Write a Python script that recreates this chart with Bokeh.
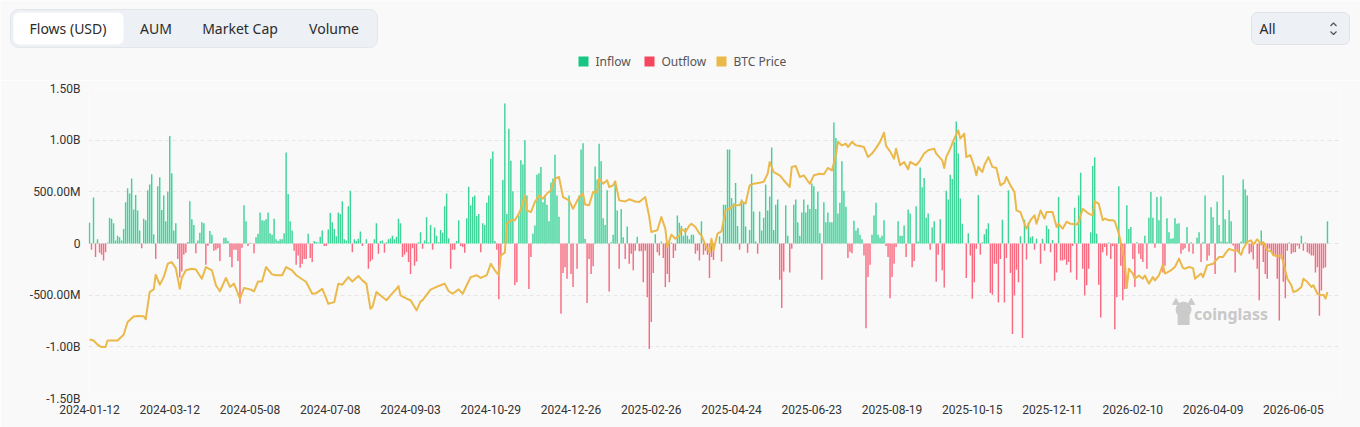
import numpy as np
from bokeh.plotting import figure
from bokeh.models import Range1d, FixedTicker, ColumnDataSource
from bokeh.layouts import column
from bokeh.core.properties import value
from bokeh.embed import file_html
from bokeh.resources import INLINE

BG = "#f9f9f9"
INFLOW_COLOR = "#3fd39a"
OUTFLOW_COLOR = "#f86b80"
PRICE_COLOR = "#ebb84a"

# ---- header texts -------------------------------------------------------
tab_names = ["Flows (USD)", "AUM", "Market Cap", "Volume"]
range_choice = "All"
legend_names = ["Inflow", "Outflow", "BTC Price"]

# ---- axis labels --------------------------------------------------------
# one date label every 40 trading days
date_labels = ["2024-01-12", "2024-03-12", "2024-05-08", "2024-07-08",
               "2024-09-03", "2024-10-29", "2024-12-26", "2025-02-26",
               "2025-04-24", "2025-06-23", "2025-08-19", "2025-10-15",
               "2025-12-11", "2026-02-10", "2026-04-09", "2026-06-05"]
label_step = 40
y_ticks = [-1.5e9, -1.0e9, -5e8, 0.0, 5e8, 1.0e9, 1.5e9]
y_tick_labels = ["-1.50B", "-1.00B", "-500.00M", "0", "500.00M", "1.00B", "1.50B"]

# ---- daily net flow, million USD (one value per trading day) -----------
net_flow_m = [
    200, -60, 445, -130, 40, -90, -110, -165, -85, 10,
    250, 240, 195, 30, 75, 60, 30, 140, 400, 535,
    485, 630, 330, 470, 320, 125, -45, 240, 225, 515,
    570, 670, 90, -150, 555, 640, 325, 465, 215, 500,
    1040, 680, 125, 195, -150, -330, -270, -110, -90, 15,
    410, 235, 180, -95, 30, 105, 205, 195, -205, -25,
    120, 85, -70, -60, -45, -170, 0, 55, 55, 25,
    -130, -230, -60, -60, -170, -580, -40, 370, 215, -25,
    8, 0, -95, 60, 95, 300, 225, 220, 235, 300,
    100, 85, 240, 40, 25, 40, 40, 100, 880, 480,
    215, 125, -70, -205, -115, -235, -195, -150, -150, 95,
    -140, -180, 25, 15, 10, 65, 125, -25, -25, 135,
    295, 205, 140,
    70, 300, 285, 410, 40, 30, 360, 510, -85, 40,
    25, 45, 115, -25, 0, 40, -245, -175, -155, 40,
    195, -100, 25, 30, -90, 12, 40, 50, 75, 40,
    65, 240, 195, -130, -110, -85, -180, -295, -45, -215,
    -175, 12, 110, -50, 30, 255, 12, 180, -60, 155,
    75, 12, 130, 105, 360, 485, 50, -245, -60, -60,
    25, 225, -25, -35, -90, 245, 550, 370, 450, 465,
    265, 285, -85, 195, 180, 395, 465, 820, 890, 25,
    -60, -540, -115, 615, 1355, 285, 1110, 800, 505, -405,
    -375, 270, 805, 765, 1000, 465, -440, -130, 95, 175,
    665, 680, 740, 400, 470, 375, 215, 590, 630, 860,
    465, 260, -680, -285, -230, -340, 465, -295, -420, 0,
    -245, 465, 910, 970,
    45, -575, -150, -295, -220, 745, 620, 965, 795, 245,
    180, 515, -465, 12, 85, 580, 320, -245, 335, 60,
    -150, 165, -195, -100, -260, -70, 65, -75, -75, -375,
    -70, -520, -1020, -760, -285, 90, -85, -115, 20, -140,
    -420, -295, -375, 10, -140, -70, 270, 200, 170, 75,
    150, 75, 40, 85, 85, -100, -70, -165, 215, -110,
    -70, -110, -335, -130, -160, 0, 0, 70, -175, 375,
    375, 910, 910, 440, 390, 585, 170, -60, 425, 400,
    165, -90, 130, 670, 310, 20, -100, 310, 125, 250,
    570, 320, 455, 930, 130, 375, 425, -350, -625, -270,
    370, 75, -280, -50, 375, 425, 205, 75, 300, 425,
    300, 375, 335, 580, 555, 335, 500, 100, -350, 400,
    205, 300, 205, 205,
    1170, 1020, 290, 395, 795, 510, 355, -140, -80, -95,
    220, 125, 150, 85, 40, -115, -820, -325, -205, 85,
    270, 395, 85, 55, 75, 225, -25, -130, -530, -325,
    -195, -35, 215, 75, 75, 175, -130, 330, 290, -230,
    -170, 360, 20, 735, 545, 635, 250, 290, -60, 155,
    215, -370, -110, 235, -260, -425, 510, 425, 665, 625,
    980, 1180, 870, 435, 190, 0, -335, 100, -115, -535,
    -375, -50, 470, -110, 12, 90, 140, 195, -480, -495,
    -195, -195, -570, -150, 230, -570, -140, 515, -285, -875,
    -500, -255, -375, 70, -915, 230, -155, 205, 60, 70,
    -60, 45, 0, -195, 45, -70, 175, 140, -85, 35,
    -360, -280, 450, -165, -165, -155, -205, -180, -280, -25,
    345, -350, 465, 685, -245,
    -500, -405, -245, 110, 750, 835, 95, -400, -715, -85,
    -35, -115, 10, -150, -25, -830, -520, 555, -215, -550,
    -440, 370, 140, 160, -150, -420, 12, -100, -150, -180,
    75, -245, 250, 500, 250, -40, 450, 225, 455, -280,
    -215, 245, 110, 45, 50, 245, 190, 195, -100, -60,
    -45, 160, -80, 12, -100, 0, 55, 110, -180, 12,
    465, -165, -115, 350, 255, -295, 405, 180, 20, 660,
    235, 15, 325, 215, -20, -280, -60, -85, 20, 620,
    525, 465, -100, -85, -155, 10, -245, -550, 125, -180,
    -295, -340, -50, -85, -110, -110, -340, -745, -150, -370,
    -530, -70, 10, -100, -85, -85, -20, -50, 75, -70,
    10, -85, -100, -115, -115, -280, -230, -700, -455, -240,
    -230, 215,
]

# ---- BTC close (thousand USD), sampled on trading-day index -----------
btc_day = [
    0, 2, 4, 6, 8, 9, 12, 14, 17, 19, 22, 24, 27, 28, 30, 32, 33, 35, 37, 39,
    41, 43, 45, 46, 48, 51, 53, 56, 58, 61, 63, 65, 68, 70, 72, 75, 77, 80, 82, 84,
    86, 88, 91, 93, 96, 98, 101, 103, 106, 108, 111, 113, 116, 118, 119, 122,
    124, 126, 129, 131, 134, 136, 138, 140, 141, 143, 146, 148, 150, 153, 154, 155,
    158, 160, 163, 165, 166, 168, 170, 173, 175, 177, 179, 181, 184, 186, 188, 190,
    193, 195, 198, 200, 202, 204, 205, 207, 208, 210, 212, 214, 215, 217, 218, 220,
    222, 224, 226, 228, 230, 232, 234, 236, 239, 241, 244, 246,
    247, 249, 251, 253, 254, 256, 258, 259, 261, 262, 264, 267, 269, 272, 274, 277,
    279, 280, 283, 285, 287, 288, 290, 292, 294, 295, 297, 299, 300, 302, 304, 305,
    307, 309, 310, 311, 313, 315, 317, 319, 321, 324, 325, 327, 329, 331, 334, 336,
    338, 339, 341, 344, 346, 349, 350, 352, 354, 356, 358, 359, 361, 364, 366, 368, 370,
    372, 373, 375, 377, 378, 380, 382, 384, 386, 388, 390, 392, 394, 396, 397, 399,
    401, 402, 404, 406, 408, 409, 412, 414, 416, 418, 421, 422, 425, 426, 427, 429,
    431, 433, 434, 436, 437, 439, 441, 442, 443, 445, 446, 448, 450, 452, 454, 456,
    457, 459, 461, 462, 464, 466, 467, 469, 471, 472, 474, 476, 477, 480, 482, 483,
    485, 487, 489, 492, 493, 495,
    498, 500, 501, 503, 505, 506, 508, 510, 511, 513, 515, 516, 517, 518, 520, 521,
    523, 525, 526, 528, 530, 531, 533, 535, 536, 539, 541, 543, 545, 546, 548, 550,
    551, 554, 555, 557, 560, 561, 563, 565, 566, 568, 570, 572, 574, 575, 577, 579,
    580, 582, 584, 585, 587, 589, 590, 592, 594, 595, 597, 599, 600, 602, 604, 605,
    607, 609, 610, 612, 614, 615, 616, 617,
]
btc_price_k = [
    46.4, 46.0, 44.5, 43.6, 43.6, 46.0, 46.0, 46.0, 48.1, 52.8, 54.8, 55.0, 54.9, 53.8, 63.8, 64.8, 70.2, 66.5, 69.3, 74.2,
    74.8, 72.6, 65.0, 69.0, 71.8, 72.4, 72.1, 68.7, 73.0, 71.8, 66.3, 64.1, 69.0, 65.7, 66.9, 61.4, 65.3, 64.8, 64.1, 67.7,
    67.7, 73.0, 70.3, 70.0, 70.0, 73.0, 71.8, 70.0, 68.5, 67.5, 63.2, 63.4, 65.0, 61.4, 59.5, 60.1,
    66.9, 66.5, 69.3, 67.7, 69.7, 68.1, 66.9, 57.7, 58.3, 63.8, 62.0, 60.8, 62.6, 65.0, 66.0, 62.6,
    61.4, 60.8, 57.1, 60.4, 60.8, 62.8, 64.7, 65.7, 66.3, 66.9, 64.1, 63.2, 64.8, 63.2, 66.3, 69.3,
    70.0, 69.0, 70.0, 74.2, 71.8, 70.0, 77.3, 78.3, 88.9, 90.2, 90.2, 92.6, 94.4, 99.3, 93.8, 93.2,
    96.9, 99.3, 98.1, 100.0, 101.2, 105.5, 106.1, 98.7, 97.5, 94.4, 98.7, 100.0,
    96.0, 95.7, 100.6, 100.6, 105.5, 103.6, 104.9, 102.4, 103.0, 104.5, 97.5, 97.1, 97.9, 97.1, 96.9, 98.7,
    91.4, 85.9, 86.5, 91.4, 87.1, 80.4, 84.9, 83.4, 84.6, 87.1, 85.9, 88.3, 88.9, 87.7, 85.3, 84.6,
    81.0, 78.5, 83.4, 79.1, 85.3, 86.1, 93.8, 94.4, 95.7, 95.7, 97.1, 96.3, 103.0, 103.6, 104.0, 104.3,
    107.3, 111.6, 107.9, 106.7, 104.9, 102.4, 109.8, 110.1, 106.1, 106.7, 104.6, 103.6, 106.7, 107.3, 107.1, 109.4, 108.5,
    114.0, 119.0, 117.7, 118.3, 117.1, 119.0, 117.7, 117.5, 117.1, 113.4, 114.7, 116.7, 119.0, 122.4, 117.5, 115.5,
    112.8, 116.5, 110.4, 111.6, 108.9, 111.6, 110.4, 112.2, 114.7, 115.9, 116.5, 114.7, 112.2, 109.4, 113.4, 116.5,
    120.2, 123.2, 120.2, 122.0, 113.4, 114.1, 109.8, 106.7, 109.8, 107.9, 110.4, 113.4, 109.8, 109.4, 103.0, 104.0,
    106.1, 103.0, 100.6, 93.8, 93.2, 88.9, 87.1, 90.2, 92.0, 88.9, 93.8, 90.8, 93.2, 93.2, 87.7, 88.9,
    87.1, 89.6, 88.9, 88.6, 89.6, 94.4,
    92.6, 92.0, 97.1, 96.3, 90.2, 90.8, 90.2, 90.2, 89.8, 85.3, 78.5, 74.8, 65.3, 72.4, 70.6, 68.7,
    69.9, 68.7, 69.9, 66.9, 69.3, 68.1, 69.9, 73.9, 70.6, 71.8, 73.0, 76.1, 72.6, 72.4, 73.0, 72.6,
    68.7, 70.6, 69.3, 73.6, 74.2, 75.1, 76.7, 76.7, 77.9, 79.7, 79.1, 79.1, 77.5, 79.7, 82.2, 82.8,
    81.2, 83.2, 81.2, 82.2, 79.1, 78.8, 77.3, 77.0, 77.3, 74.8, 68.7, 66.3, 63.8, 64.4, 65.7, 68.7,
    67.5, 65.7, 66.3, 63.2, 62.6, 62.8, 61.4, 63.8,
]

# ---- flow bars -----------------------------------------------------------
flow = np.array(net_flow_m, dtype=float) * 1e6
day = np.arange(len(flow))
bars = ColumnDataSource(dict(
    day=day,
    inflow=np.where(flow > 0, flow, 0.0),
    outflow=np.where(flow < 0, flow, 0.0),
))

chart = figure(
    width=1360, height=347,
    x_range=Range1d(-0.5, 623.5), y_range=Range1d(-1.5e9, 1.5e9),
    output_backend="svg", toolbar_location=None,
    min_border_left=88, min_border_right=20, min_border_top=8, min_border_bottom=29,
    background_fill_color=BG, border_fill_color=BG, outline_line_color=None,
)
chart.frame_align = False
chart.extra_y_ranges = {"btc": Range1d(24.7, 138.6)}

chart.vbar(x="day", bottom=0, top="inflow", width=0.72, source=bars,
           fill_color=INFLOW_COLOR, line_color=None)
chart.vbar(x="day", top=0, bottom="outflow", width=0.72, source=bars,
           fill_color=OUTFLOW_COLOR, line_color=None)
chart.line(btc_day, btc_price_k, y_range_name="btc",
           line_color=PRICE_COLOR, line_width=2, line_join="round")

# watermark
chart.scatter([545.3], [-0.64e9], size=15, marker="circle", color="#cbcbcb")
chart.scatter([545.3], [-0.73e9], size=11, marker="square", color="#cbcbcb")
chart.scatter([541.5, 549.1], [-0.57e9, -0.57e9], size=7, marker="triangle", color="#cbcbcb")
chart.text([550.5], [-0.68e9], text=["coinglass"], text_font=value("Noto Sans"),
           text_font_style="bold", text_font_size="16px", text_color="#c8c8c8",
           text_baseline="middle", text_align="left")

# grid
chart.xgrid.visible = False
chart.ygrid.ticker = FixedTicker(ticks=y_ticks)
chart.ygrid.grid_line_color = "#e6e6e6"
chart.ygrid.grid_line_dash = "4 3"

# axes
for ax in (chart.xaxis[0], chart.yaxis[0]):
    ax.axis_line_color = None
    ax.major_tick_line_color = None
    ax.minor_tick_line_color = None
    ax.major_tick_out = 0
    ax.major_tick_in = 0
    ax.minor_tick_out = 0
    ax.major_label_text_font = "Roboto"
    ax.major_label_text_font_size = "12px"
    ax.major_label_text_color = "#333333"

date_ticks = [label_step * k for k in range(len(date_labels))]
chart.xaxis.ticker = FixedTicker(ticks=date_ticks)
chart.xaxis.major_label_overrides = dict(zip(date_ticks, date_labels))
chart.xaxis.major_label_standoff = 6
chart.yaxis.ticker = FixedTicker(ticks=y_ticks)
chart.yaxis.major_label_overrides = dict(zip(y_ticks, y_tick_labels))
chart.yaxis.major_label_standoff = 8

# ---- header: tabs, range selector, legend -------------------------------
head = figure(
    width=1360, height=80,
    x_range=Range1d(0, 1360), y_range=Range1d(80, 0),
    output_backend="svg", toolbar_location=None,
    x_axis_location=None, y_axis_location=None, min_border=0,
    background_fill_color=BG, border_fill_color=BG, outline_line_color=None,
)
head.frame_align = False
head.grid.visible = False

head.quad(left=[10], right=[377], top=[9], bottom=[47], fill_color="#edf0f4",
          line_color="#e2e6eb", border_radius=8)
head.quad(left=[13], right=[123], top=[12], bottom=[44], fill_color="#ffffff",
          line_color=None, border_radius=6)
head.text([67.5, 155.5, 239.5, 333.5], [28] * 4, text=tab_names,
          text_font=value("Noto Sans"), text_font_size="14px", text_color="#2b2b2b",
          text_align="center", text_baseline="middle")

head.quad(left=[1251], right=[1349], top=[12], bottom=[44], fill_color="#edf0f4",
          line_color="#dfe3e8", border_radius=6)
head.text([1259], [28], text=[range_choice], text_font=value("Noto Sans"),
          text_font_size="14px", text_color="#2b2b2b", text_baseline="middle")
head.multi_line([[1330, 1333, 1336], [1330, 1333, 1336]],
                [[25.5, 22.5, 25.5], [31, 34, 31]],
                line_color="#555555", line_width=1.2)

head.rect([583, 649, 721], [61] * 3, width=10, height=10,
          fill_color=["#16c784", "#f6465d", "#e9b949"], line_color=None)
head.text([595, 661, 733], [61] * 3, text=legend_names, text_font=value("Noto Sans"),
          text_font_size="12px", text_color="#555555", text_baseline="middle")

layout = column(head, chart)
open("out.html", "w").write(file_html(layout, INLINE))
